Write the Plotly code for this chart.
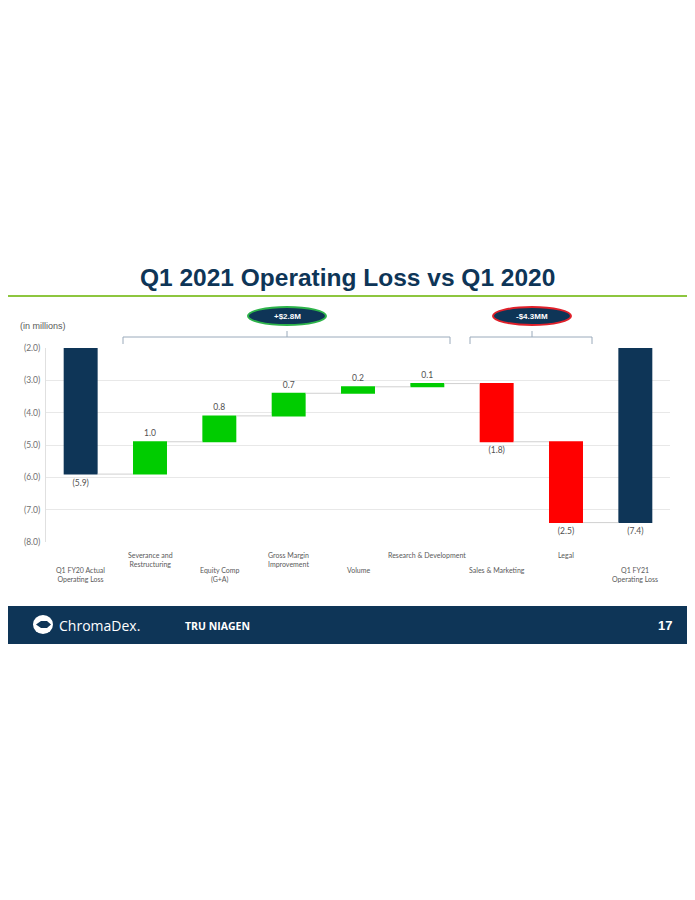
import plotly.graph_objects as go

categories = ["Q1 FY20 Actual<br>Operating Loss", "Severance and<br>Restructuring", "Equity Comp<br>(G+A)",
              "Gross Margin<br>Improvement", "Volume", "Research & Development", "Sales & Marketing",
              "Legal", "Q1 FY21<br>Operating Loss"]
measures = ["absolute", "relative", "relative", "relative", "relative", "relative", "relative", "relative", "total"]
values = [-5.9, 1.0, 0.8, 0.7, 0.2, 0.1, -1.8, -2.5, -7.4]
labels = ["(5.9)", "1.0", "0.8", "0.7", "0.2", "0.1", "(1.8)", "(2.5)", "(7.4)"]
y_ticks = [-2, -3, -4, -5, -6, -7, -8]
y_ticktext = ["(2.0)", "(3.0)", "(4.0)", "(5.0)", "(6.0)", "(7.0)", "(8.0)"]
groups = [("+$2.8M", "#2DB34A"), ("-$4.3MM", "#E0202A")]

NAVY = "#0E3557"
GREY = "#595959"

# page sits 8px in from the window edge, plot area on the page: x 46..670, y 348..542
def px(x):
    return (x - 46) / 624.0

def py(y):
    return (542 - y) / 194.0

fig = go.Figure()
fig.add_trace(go.Waterfall(
    x=list(range(len(categories))),
    measure=measures,
    y=values,
    text=labels,
    textposition="outside",
    cliponaxis=False,
    outsidetextfont=dict(family="Lato", size=8.5, color="#505050"),
    increasing=dict(marker=dict(color="#00CC00")),
    decreasing=dict(marker=dict(color="#FF0000")),
    totals=dict(marker=dict(color=NAVY)),
    connector=dict(line=dict(color="#D0D0D0", width=1)),
    width=0.49,
    base=0,
    hoverinfo="skip",
))

shapes = []
annotations = []

# title and green rule
annotations.append(dict(text="<b>Q1 2021 Operating Loss vs Q1 2020</b>", xref="paper", yref="paper",
                        x=px(347), y=py(277), showarrow=False, xanchor="center", yanchor="middle",
                        font=dict(family="Liberation Sans", size=24.5, color=NAVY)))
shapes.append(dict(type="line", xref="paper", yref="paper", x0=px(-10), x1=px(705), y0=py(296), y1=py(296),
                   line=dict(color="#8DC63F", width=2)))

annotations.append(dict(text="(in millions)", xref="paper", yref="paper", x=px(18), y=py(326),
                        showarrow=False, xanchor="left", yanchor="middle",
                        font=dict(family="Liberation Sans", size=9, color=GREY)))

# brackets + ovals
brackets = [(123, 450, 287), (470, 592, 532)]
for (x0, x1, xc), (txt, border) in zip(brackets, groups):
    shapes.append(dict(type="path", xref="paper", yref="paper",
                       path="M {a},{b} L {a},{c} L {d},{c} L {d},{b}".format(
                           a=px(x0), b=py(344), c=py(337), d=px(x1)),
                       line=dict(color="#9AAABB", width=1)))
    shapes.append(dict(type="line", xref="paper", yref="paper", x0=px(xc), x1=px(xc), y0=py(337), y1=py(331),
                       line=dict(color="#9AAABB", width=1)))
    shapes.append(dict(type="circle", xref="paper", yref="paper", x0=px(xc - 39), x1=px(xc + 39),
                       y0=py(325), y1=py(307), fillcolor=NAVY, line=dict(color=border, width=2)))
    annotations.append(dict(text="<b>" + txt + "</b>", xref="paper", yref="paper", x=px(xc), y=py(316),
                            showarrow=False, xanchor="center", yanchor="middle",
                            font=dict(family="Liberation Sans", size=8, color="white")))

# staggered category labels
for i, cat in enumerate(categories):
    top = 549 if i % 2 == 1 else 564
    annotations.append(dict(text=cat, xref="x", yref="paper", x=i, y=py(top), showarrow=False,
                            xanchor="center", yanchor="top",
                            font=dict(family="Lato", size=7, color=GREY)))

# footer
shapes.append(dict(type="rect", xref="paper", yref="paper", x0=px(-10), x1=px(705), y0=py(644), y1=py(606),
                   fillcolor="#0E3557", line=dict(width=0), layer="below"))
shapes.append(dict(type="circle", xref="paper", yref="paper", x0=px(33), x1=px(53), y0=py(634), y1=py(615),
                   fillcolor="white", line=dict(width=0)))
shapes.append(dict(type="path", xref="paper", yref="paper",
                   path="M {a},{b} L {c},{d} L {e},{d} L {f},{g} L {e},{h} L {c},{h} Z".format(
                       a=px(36), b=py(624.5), c=px(41), d=py(621), e=px(47), f=px(51), g=py(624.5), h=py(628)),
                   fillcolor="#0E3557", line=dict(width=0)))
annotations.append(dict(text="ChromaDex.", xref="paper", yref="paper", x=px(57), y=py(625), showarrow=False,
                        xanchor="left", yanchor="middle",
                        font=dict(family="Open Sans", size=14, color="white")))
annotations.append(dict(text="<b>TRU NIAGEN</b>", xref="paper", yref="paper", x=px(183), y=py(626),
                        showarrow=False, xanchor="left", yanchor="middle",
                        font=dict(family="Open Sans", size=10.5, color="white")))
annotations.append(dict(text="<b>17</b>", xref="paper", yref="paper", x=px(665), y=py(625), showarrow=False,
                        xanchor="center", yanchor="middle",
                        font=dict(family="Liberation Sans", size=13, color="white")))

fig.update_layout(
    width=687, height=884,
    margin=dict(l=38, r=25, t=340, b=350),
    paper_bgcolor="white", plot_bgcolor="white",
    showlegend=False,
    shapes=shapes,
    annotations=annotations,
    xaxis=dict(range=[-0.5, len(categories) - 0.5], showticklabels=False, showgrid=False,
               zeroline=False, fixedrange=True),
    yaxis=dict(range=[-8, -2], tickvals=y_ticks, ticktext=y_ticktext, showgrid=True,
               gridcolor="#E8E8E8", gridwidth=1, zeroline=False, showline=True, linecolor="#E0E0E0",
               ticks="", ticklabelstandoff=3,
               tickfont=dict(family="Lato", size=8.5, color="#6F6F6F")),
)

fig.write_html("out.html")
